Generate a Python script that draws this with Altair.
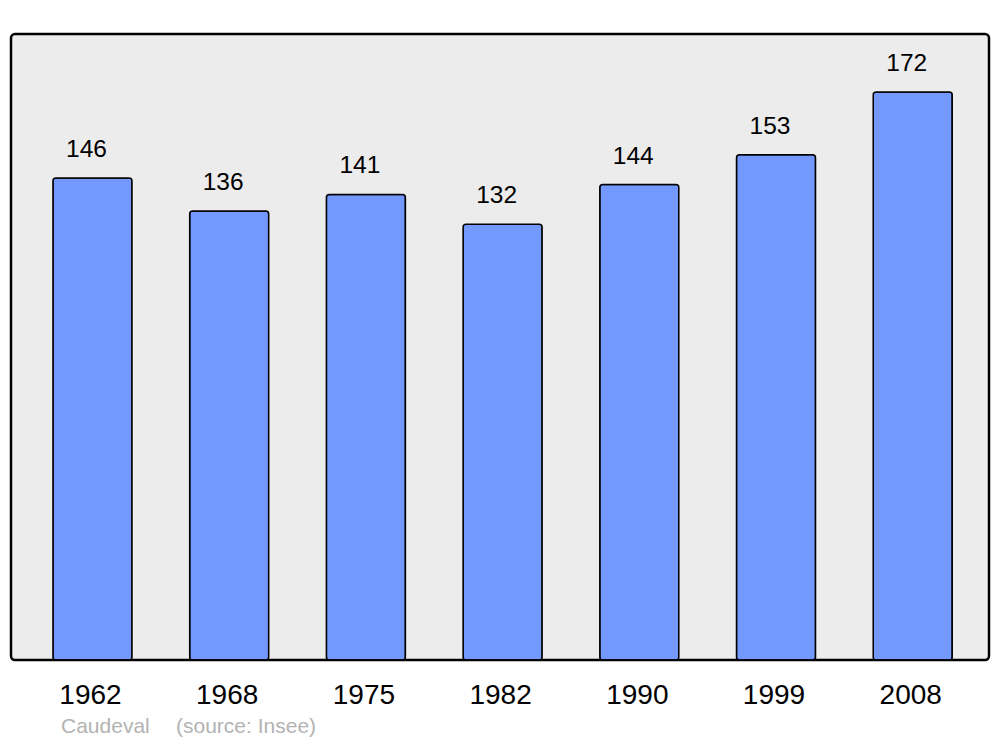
import altair as alt
import pandas as pd

years = ["1962", "1968", "1975", "1982", "1990", "1999", "2008"]
population = [146, 136, 141, 132, 144, 153, 172]
place = "Caudeval"
source = "(source: Insee)"

df = pd.DataFrame({"year": years, "pop": population})

FONT = "Liberation Sans"

x = alt.X("year:N", sort=years, title=None,
          scale=alt.Scale(paddingInner=0.422, paddingOuter=0.288, align=0.533),
          axis=alt.Axis(domain=False, ticks=False, labelAngle=0, labelFontSize=28,
                        labelFont=FONT, labelColor="black", labelPadding=21,
                        labelOffset=-2, grid=False))
y = alt.Y("pop:Q", scale=alt.Scale(domain=[0, 189.6], nice=False), axis=None)

base = alt.Chart(df)

bars = base.mark_bar(color="#7399ff", stroke="black", strokeWidth=1.5,
                     cornerRadius=3).encode(x=x, y=y)

labels = base.mark_text(fontSize=24.5, font=FONT, color="black", dy=-28, dx=-6,
                        baseline="middle").encode(x=x, y=y, text="pop:Q")

foot1 = alt.Chart(pd.DataFrame({"t": [place]})).mark_text(
    fontSize=21, font=FONT, color="#b3b3b3", align="left", baseline="middle"
).encode(x=alt.value(50), y=alt.value(693), text="t:N")

foot2 = alt.Chart(pd.DataFrame({"t": [source]})).mark_text(
    fontSize=21, font=FONT, color="#b3b3b3", align="left", baseline="middle"
).encode(x=alt.value(165), y=alt.value(693), text="t:N")

chart = alt.layer(bars, labels, foot1, foot2).properties(
    width=978, height=626,
    background="white",
    autosize=alt.AutoSizeParams(type="none"),
    padding={"left": 3, "top": 26, "right": 3, "bottom": 79},
).configure_view(
    stroke="black", strokeWidth=2.5, fill="#ececec", cornerRadius=4
)

chart.save("out.html", embed_options={"renderer": "svg", "actions": False})
